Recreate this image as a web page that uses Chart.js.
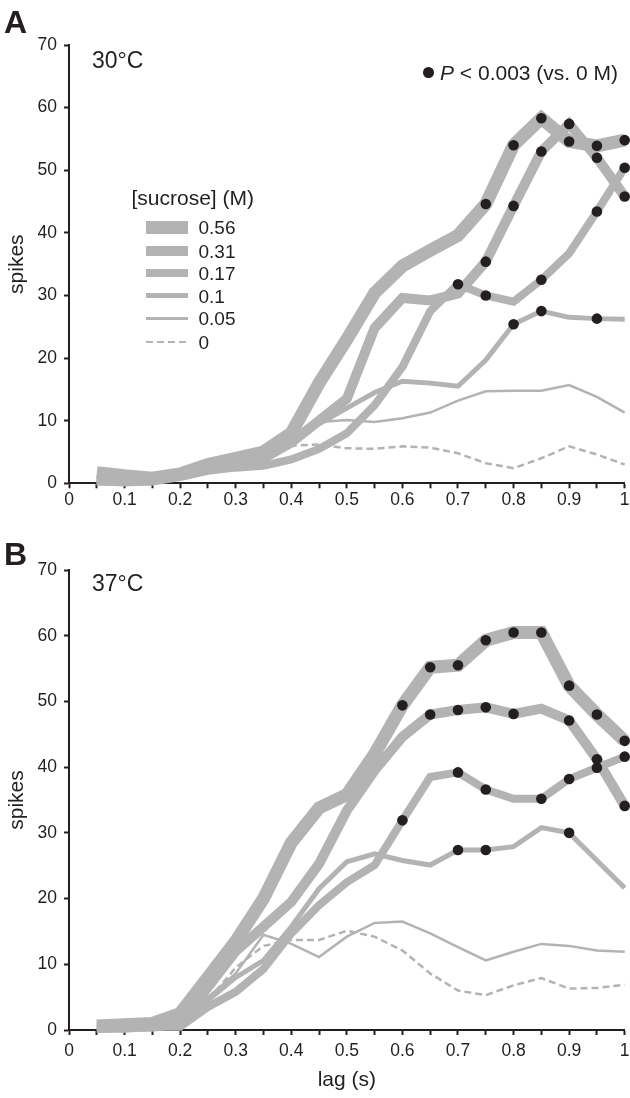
<!DOCTYPE html>
<html>
<head>
<meta charset="utf-8">
<script src="https://cdn.jsdelivr.net/npm/chart.js@4/dist/chart.umd.min.js"></script>
<style>
  html, body { margin: 0; padding: 0; background: #fff; }
  body { width: 630px; height: 1098px; position: relative; overflow: hidden;
         font-family: "Liberation Sans", Arial, Helvetica, sans-serif; color: #231f20; }
  canvas { position: absolute; left: 0; }
  .t { position: absolute; line-height: 1; white-space: nowrap; }
  .sw { position: absolute; left: 146px; width: 42px; background: #b3b3b3; }
</style>
</head>
<body>
<canvas id="cA" width="630" height="549" style="top:0px"></canvas>
<canvas id="cB" width="630" height="549" style="top:549px"></canvas>

<div class="t" style="left:4px;top:6px;font-size:32px;font-weight:bold;">A</div>
<div class="t" style="left:4px;top:538px;font-size:32px;font-weight:bold;">B</div>
<div class="t" style="left:92px;top:48.5px;font-size:23px;">30°C</div>
<div class="t" style="left:92px;top:571.5px;font-size:23px;">37°C</div>

<div style="position:absolute;left:423px;top:67.4px;width:10.6px;height:10.6px;border-radius:50%;background:#231f20;"></div>
<div class="t" style="left:440px;top:62.2px;font-size:21px;"><i>P</i> &lt; 0.003 (vs. 0 M)</div>

<div class="t" style="left:131.5px;top:187.2px;font-size:21px;">[sucrose] (M)</div>
<div id="legend"></div>

<script>
// ---- data ----
const lags = [0.05,0.1,0.15,0.2,0.25,0.3,0.35,0.4,0.45,0.5,0.55,0.6,0.65,0.7,0.75,0.8,0.85,0.9,0.95,1];
const concLabels = ["0.56","0.31","0.17","0.1","0.05","0"];
const yTicks = [0,10,20,30,40,50,60,70];

// Panel A: 30°C
const a056 = [1.7,1.2,0.8,1.5,3.0,4.0,5.0,8.0,16.0,23.0,30.4,34.7,37.2,39.6,44.6,54.0,58.3,54.6,53.9,54.8];
const a031 = [0.5,0.3,0.5,1.3,2.5,3.3,4.0,6.5,10.0,13.5,24.8,29.6,29.2,30.3,35.4,44.3,53.0,57.4,52.0,45.8];
const a017 = [0.3,0.2,0.3,1.0,2.0,2.5,2.8,3.8,5.5,8.0,12.5,18.6,27.5,31.8,30.0,29.0,32.5,36.7,43.4,50.4];
const a010 = [0.3,0.3,0.5,1.0,2.5,3.0,3.5,7.0,9.5,12.0,14.5,16.3,16.0,15.5,19.7,25.4,27.5,26.5,26.3,26.2];
const a005 = [0.3,0.3,0.5,1.0,2.0,3.0,4.0,7.0,9.8,10.1,9.8,10.4,11.3,13.2,14.7,14.8,14.8,15.7,13.8,11.3];
const a000 = [0.3,0.3,0.5,1.0,2.0,3.0,4.0,6.0,6.2,5.6,5.5,5.9,5.7,4.8,3.2,2.4,4.0,5.9,4.6,3.0];
// significant lags (P < 0.003 vs 0 M), panel A
const sigA056 = [0.75,0.8,0.85,0.9,0.95,1];
const sigA031 = [0.75,0.8,0.85,0.9,0.95,1];
const sigA017 = [0.7,0.75,0.85,0.95,1];
const sigA010 = [0.8,0.85,0.95];

// Panel B: 37°C
const b056 = [0.6,0.8,1.0,2.5,8.0,13.5,20.0,28.5,33.8,35.8,42.0,49.4,55.2,55.5,59.3,60.5,60.5,52.4,48.0,44.0];
const b031 = [0.3,0.5,0.5,1.0,6.5,12.0,15.7,19.5,25.3,33.4,39.5,44.6,48.0,48.7,49.1,48.1,48.9,47.1,41.2,34.1];
const b017 = [0.2,0.2,0.5,0.5,3.5,5.8,9.3,14.7,19.0,22.5,25.1,31.9,38.5,39.2,36.6,35.2,35.2,38.2,39.9,41.6];
const b010 = [0.2,0.3,0.5,1.0,4.5,8.0,10.6,15.7,21.5,25.6,26.8,25.8,25.1,27.4,27.4,27.9,30.8,30.0,25.8,21.6];
const b005 = [0.3,0.5,0.5,1.0,5.0,8.6,14.5,13.1,11.1,14.2,16.3,16.5,14.7,12.6,10.6,11.9,13.1,12.8,12.1,11.9];
const b000 = [0.2,0.3,0.5,1.0,4.5,9.5,12.8,13.7,13.7,15.1,14.2,12.1,8.6,6.0,5.3,6.8,7.9,6.3,6.4,6.9];
const sigB056 = [0.6,0.65,0.7,0.75,0.8,0.85,0.9,0.95,1];
const sigB031 = [0.65,0.7,0.75,0.8,0.9,0.95,1];
const sigB017 = [0.6,0.7,0.75,0.85,0.9,0.95,1];
const sigB010 = [0.7,0.75,0.9];

// ---- styles ----
const GRAY = '#b3b3b3';
const INK = '#231f20';
const FONT = '"Liberation Sans", Arial, Helvetica, sans-serif';
const widths = [13, 10, 8, 5, 2.5, 2.5];
const dashes = [[], [], [], [], [], [7, 4]];

// legend swatches
(function () {
  const centers = [227.3, 250.8, 273.2, 295.8, 318.7, 342];
  const lg = document.getElementById('legend');
  concLabels.forEach((lab, i) => {
    const sw = document.createElement('div');
    sw.className = 'sw';
    const h = widths[i];
    sw.style.top = (centers[i] - h / 2) + 'px';
    sw.style.height = h + 'px';
    if (dashes[i].length) {
      sw.style.background = 'repeating-linear-gradient(to right,' + GRAY + ' 0 7px, transparent 7px 11px)';
    }
    lg.appendChild(sw);
    const tx = document.createElement('div');
    tx.className = 't';
    tx.style.left = '198.5px';
    tx.style.top = (centers[i] + 6.8 - 16.1) + 'px';
    tx.style.fontSize = '19px';
    tx.textContent = lab;
    lg.appendChild(tx);
  });
})();

function pts(vals) { return lags.map((x, i) => ({ x: x, y: vals[i] })); }
function sigPts(vals, sig) {
  return lags.map((x, i) => ({ x: x, y: sig.some(s => Math.abs(s - x) < 1e-6) ? vals[i] : null }));
}

function makeChart(id, series, sigs, padTop, xHeight, showXTitle, xTickPad) {
  const datasets = [];
  series.forEach((vals, i) => {
    datasets.push({
      label: concLabels[i],
      data: pts(vals),
      borderColor: GRAY,
      backgroundColor: GRAY,
      borderWidth: widths[i],
      borderDash: dashes[i],
      borderCapStyle: 'butt',
      borderJoinStyle: 'miter',
      pointRadius: 0,
      tension: 0,
      fill: false,
      clip: false,
      order: 1
    });
  });
  sigs.forEach((sig, i) => {
    datasets.push({
      label: concLabels[i] + ' sig',
      data: sigPts(series[i], sig),
      showLine: false,
      pointRadius: 5.3,
      pointBackgroundColor: INK,
      pointBorderWidth: 0,
      spanGaps: false,
      clip: false,
      order: -1
    });
  });
  return new Chart(document.getElementById(id), {
    type: 'line',
    data: { datasets: datasets },
    options: {
      responsive: false,
      animation: false,
      events: [],
      layout: { padding: { left: 0, right: 5.3, top: padTop, bottom: 0 } },
      plugins: { legend: { display: false }, tooltip: { enabled: false }, title: { display: false } },
      scales: {
        x: {
          type: 'linear', min: 0, max: 1,
          afterFit: (s) => { s.height = xHeight; s.paddingLeft = 0; s.paddingRight = 0; },
          border: { display: true, color: INK, width: 2 },
          grid: { display: true, drawOnChartArea: false, drawTicks: true, tickLength: 5, tickColor: INK, tickWidth: 2 },
          ticks: {
            stepSize: 0.05, autoSkip: false, maxRotation: 0, padding: xTickPad, color: INK,
            font: { family: FONT, size: 17.5 },
            callback: (v) => {
              const r = Math.round(v * 100);
              if (r % 10 !== 0) return '';
              return String(r / 100);
            }
          },
          title: {
            display: showXTitle, text: 'lag (s)', color: INK,
            font: { family: FONT, size: 21 }, padding: { top: 0, bottom: 5.4 }
          }
        },
        y: {
          type: 'linear', min: 0, max: 70,
          afterFit: (s) => { s.width = 69; },
          afterBuildTicks: (s) => { s.ticks = yTicks.map(v => ({ value: v })); },
          border: { display: true, color: INK, width: 2 },
          grid: { display: true, drawOnChartArea: false, drawTicks: true, tickLength: 5, tickColor: INK, tickWidth: 2 },
          ticks: { padding: 7, color: INK, font: { family: FONT, size: 17.5 } },
          title: {
            display: true, text: 'spikes', color: INK,
            font: { family: FONT, size: 21 }, padding: { top: 5, bottom: 0 }
          }
        }
      }
    }
  });
}

makeChart('cA', [a056, a031, a017, a010, a005, a000], [sigA056, sigA031, sigA017, sigA010], 45, 65.7, false, 1);
makeChart('cB', [b056, b031, b017, b010, b005, b000], [sigB056, sigB031, sigB017, sigB010], 21, 68, true, 6);
</script>
</body>
</html>
